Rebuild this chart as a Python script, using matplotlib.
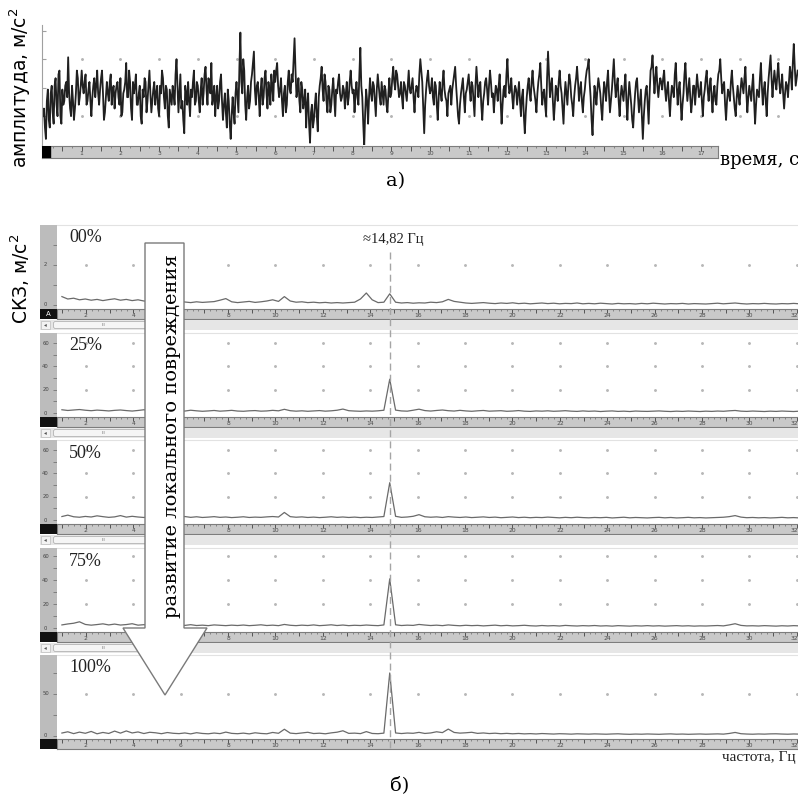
import numpy as np
import matplotlib
matplotlib.use('Agg')
import matplotlib.pyplot as plt
from matplotlib.patches import Polygon, Rectangle, FancyBboxPatch
from matplotlib.lines import Line2D

# ---------------- data ----------------
# a) time signal (amplitude, m/s^2): samples at k*0.05 s ...
signal_dt = 0.05
signal = [
    -0.3, -0.6, 0.1, -0.4, 0.3, -0.2, 0.5, 0.0, 0.8, -0.3, 0.4, 0.1, 0.6, 1.25, -0.1, 0.5, -0.4, 0.3, 0.7, 0.2,
    0.9, 0.3, 0.8, 0.1, 0.6, -0.3, 0.5, 0.2, 0.9, 0.0, 0.7, 0.3, -0.2, 0.6, 0.1, 0.8, 0.4, -0.1, 0.5, 0.2,
    0.7, -0.2, 0.4, 1.1, 0.2, 0.6, -0.4, 0.3, 0.8, 0.0, 0.5, -0.5, 0.2, 0.6, 0.1, 0.9, -0.2, 0.4, 0.0, 0.5,
    -0.3, 0.3, 0.7, -0.1, 0.4, -0.6, 0.2, 0.5, 0.0, 1.2, -0.2, 0.8, 0.1, -0.75, 0.3, 0.6, -0.3, 0.2, 0.9, 0.1,
    0.5, -0.2, 0.7, 0.3, 1.0, 0.0, 0.6, 1.1, 0.2, -0.3, 0.5, 0.1, 0.8, -0.4, 0.3, -0.6, 0.1, -0.9, 0.2, -0.5,
    0.6, -0.2, 1.9, 0.3, 0.9, -0.4, 0.5, 0.1, 0.8, 1.4, 0.0, 0.6, -0.3, 0.7, 0.2, 0.9, -0.1, 0.4, 0.8, 0.1,
    0.6, 1.1, 0.2, 0.7, -0.3, 0.5, 0.0, 0.9, 0.3, 0.6, 1.75, 0.2, 0.7, -0.2, 0.4, 0.1, -0.6, 0.3, -1.0, 0.0,
    -0.4, 0.3, -0.7, 0.5, 1.0, 0.1, 0.6, -0.2, 0.4, 0.0, 0.7, -0.3, 0.3, 0.8, 0.1, 0.5, -0.1, 0.6, 0.2, 0.9,
    0.3, -0.2, 0.6, 0.0, 1.5, 0.2, -1.1, 0.4, -0.5, 0.7, 0.1, 0.5, -0.3, 0.8, 0.2, 0.6, 0.0, 0.4, -0.2, 0.7,
    0.3, 1.0, 0.4, 0.8, 0.2, 0.6, -0.1, 0.5, 0.1, 0.9, 0.3, 0.7, -0.2, 0.5, 0.2, 1.2, 0.6, -0.75, 0.4, 0.9,
    0.3, 0.7, 0.0, 0.5, -0.4, 0.6, 0.1, 0.9, 0.2, -0.3, 0.4, 0.0, 0.6, 1.0, 0.1, -0.5, 0.3, 0.7, -0.2, 0.4,
    0.8, 0.1, 0.5, -0.3, 1.0, 0.2, 0.6, -0.4, 0.3, 0.7, 0.0, 0.9, 0.2, -0.2, 0.5, 0.1, 0.8, -0.5, 0.4, 0.2,
    1.2, 0.3, 0.7, -0.1, 0.5, 0.0, 0.6, -0.3, 0.4, -0.75, 0.2, 0.7, 0.1, 0.9, 0.3, -0.2, 0.6, 1.1, 0.0, 0.4,
    -0.3, 1.4, 0.2, 0.7, -0.4, 0.5, 0.1, 0.9, 0.3, -0.5, 0.6, 0.0, 0.8, 0.2, -0.3, 0.5, 1.0, 0.1, 0.6, -0.2,
    0.4, 0.9, 1.2, 0.2, -0.8, 0.5, 0.0, 0.7, 0.3, -0.4, 0.6, 0.1, 0.9, -0.2, 0.4, 1.2, 0.2, 0.7, -0.3, 0.5,
    0.1, 0.8, -0.4, 0.6, 0.0, -0.6, 0.3, 0.7, -0.2, 0.4, -0.9, 0.1, 0.5, -0.5, 0.9, 1.3, 0.3, 1.0, 0.2, 0.7,
    0.4, 0.9, 0.1, 0.6, -0.3, 0.5, 0.2, 1.1, 0.0, 0.6, -0.4, 0.3, 1.1, 0.1, 0.7, -0.2, 0.5, 0.0, 0.8, 0.2,
    0.6, -0.3, 0.4, 0.9, 0.1, 0.7, -0.2, 0.5, 0.0, 0.8, 1.2, 0.3, 0.6, -0.4, 0.4, 0.1, 0.9, 0.2, -0.3, 0.5,
    0.0, 0.7, 0.3, 1.0, -0.2, 0.5, 0.1, 0.8, -0.5, 0.4, 0.2, 1.1, 0.0, 0.6, -0.3, 0.7, 1.3, 0.2, 0.9, 0.4,
    1.1, 0.3, 0.8, -0.1, 0.6, 0.2, 1.0, 0.4, 1.6, 0.5, 0.9,
]
# ... and the samples read in between them, at k*0.05 + 0.025 s
signal_mid = [
    -0.1, -0.9, 0.4, -0.6, 0.5, -0.5, 0.7, -0.3, 0.9, -0.5, 0.0, 0.5, 0.2, 0.3, -0.3, 0.1, -0.1, 0.9, 0.0, 0.5,
    0.5, 0.6, 0.0, 0.4, 0.1, 0.2, 0.7, 0.5, 0.3, 0.4, 0.9, -0.4, 0.2, 0.3, 0.6, 0.0, 0.5, 0.3, 0.6, 0.0,
    -0.3, 0.3, 0.6, 0.2, 0.9, -0.1, 0.6, 0.5, 0.0, 0.3, -0.3, 0.4, 0.7, -0.2, 0.5, 0.3, 0.1, 0.6, 0.3, -0.1,
    0.5, 0.9, 0.2, 0.5, -0.3, 0.4, 0.0, 0.3, 0.8, 0.5, 0.3, -0.1, -0.4, 0.5, 0.0, 0.1, 0.4, 0.6, 0.0, 0.6,
    0.1, 0.4, 0.0, 0.8, 0.4, 0.7, 0.3, 0.0, 0.5, 0.2, -0.1, 0.6, 0.1, 0.0, -0.2, 0.4, -0.5, -0.3, -0.2, 0.3,
    0.2, 1.0, 0.6, 1.2, 0.0, 0.2, -0.1, 0.6, 1.1, 0.4, 0.5, 0.2, 0.4, 0.0, 0.7, 0.3, 0.6, 0.0, 0.5, 0.9,
    0.9, 0.5, 0.4, 0.1, 0.3, -0.2, 0.6, 0.4, 0.8, 1.2, 0.9, 0.4, 0.1, 0.6, -0.1, 0.4, 0.0, -0.5, -0.2, -0.6,
    0.0, -0.3, 0.2, 0.7, 0.4, 0.8, 0.1, 0.5, -0.2, 0.4, 0.2, 0.4, 0.6, 0.3, 0.2, 0.4, 0.3, 0.0, 0.6, 0.5,
    0.4, 0.3, 0.2, 0.8, 0.5, -0.5, -0.2, 0.1, 0.2, 0.3, 0.6, 0.1, 0.4, 0.5, 0.0, 0.3, 0.5, 0.0, 0.3, 0.2,
    0.7, 0.6, 0.9, 0.5, 0.3, 0.2, 0.6, 0.3, 0.5, 0.4, 0.5, 0.2, 0.3, 0.4, 0.8, 0.9, -0.1, 0.0, 0.7, 0.5,
    0.4, 0.2, 0.6, 0.0, 0.2, 0.3, 0.6, 0.4, 0.1, 0.3, 0.5, 0.4, 0.8, 0.5, -0.3, 0.0, 0.5, 0.2, 0.3, 0.6,
    0.4, 0.6, 0.1, 0.5, 0.6, 0.5, 0.0, 0.1, 0.6, 0.4, 0.5, 0.6, 0.3, 0.2, 0.4, 0.5, 0.1, 0.0, 0.5, 0.8,
    0.6, 0.4, 0.2, 0.3, 0.4, 0.3, 0.1, 0.2, -0.3, -0.2, 0.5, 0.3, 0.6, 0.5, 0.1, 0.3, 0.8, 0.5, 0.3, 0.0,
    0.7, 0.8, 0.5, 0.1, 0.0, 0.4, 0.6, 0.5, -0.1, 0.2, 0.3, 0.5, 0.6, 0.0, 0.2, 0.7, 0.6, 0.4, 0.1, 0.2,
    0.7, 1.0, 0.6, -0.4, -0.1, 0.3, 0.4, 0.5, -0.1, 0.2, 0.4, 0.6, 0.3, 0.1, 0.8, 0.6, 0.5, 0.1, 0.2, 0.3,
    0.5, 0.1, 0.2, 0.3, -0.4, -0.1, 0.6, 0.2, 0.1, -0.3, -0.3, 0.4, 0.0, 0.3, 1.0, 0.8, 0.7, 0.5, 0.5, 0.6,
    0.7, 0.4, 0.4, 0.1, 0.2, 0.4, 0.8, 0.5, 0.4, 0.1, 0.0, 0.8, 0.5, 0.4, 0.2, 0.1, 0.5, 0.4, 0.5, 0.3,
    0.1, 0.2, 0.7, 0.4, 0.5, 0.2, 0.3, 0.1, 0.5, 0.9, 0.7, 0.5, 0.0, 0.1, 0.3, 0.6, 0.5, -0.1, 0.2, 0.2,
    0.4, 0.5, 0.7, 0.3, 0.2, 0.3, 0.5, 0.1, 0.0, 0.3, 0.7, 0.5, 0.4, 0.1, 0.3, 1.0, 0.7, 0.6, 0.6, 0.8,
    0.6, 0.5, 0.3, 0.3, 0.5, 0.6, 0.8, 1.1, 1.0, 0.7,
]
time_ticks = list(range(1, 18))

# b) spectra, frequency bin width 0.247 Hz starting at 0.988 Hz
freq_step = 0.247
freq_start = 0.988
panel_labels = ['00%', '25%', '50%', '75%', '100%']
peak_freq = 14.82
peak_label = '≈14,82 Гц'
freq_ticks = list(range(2, 33, 2))

spec_00 = [
    0.42, 0.30, 0.34, 0.26, 0.30, 0.24, 0.28, 0.22, 0.27, 0.31,
    0.24, 0.28, 0.22, 0.26, 0.20, 0.18, 0.22, 0.16, 0.20, 0.14,
    0.18, 0.15, 0.12, 0.16, 0.13, 0.15, 0.17, 0.24, 0.32, 0.16,
    0.12, 0.15, 0.18, 0.13, 0.16, 0.20, 0.26, 0.18, 0.42, 0.20,
    0.14, 0.16, 0.12, 0.14, 0.11, 0.13, 0.10, 0.12, 0.10, 0.12,
    0.14, 0.30, 0.60, 0.26, 0.12, 0.14, 0.56, 0.14, 0.10, 0.12,
    0.09, 0.11, 0.10, 0.14, 0.12, 0.16, 0.28, 0.18, 0.14, 0.10,
    0.08, 0.10, 0.12, 0.09, 0.07, 0.10, 0.08, 0.11, 0.07, 0.09,
    0.06, 0.08, 0.10, 0.07, 0.09, 0.06, 0.08, 0.07, 0.10, 0.06,
    0.08, 0.06, 0.09, 0.07, 0.05, 0.08, 0.06, 0.07, 0.05, 0.08,
    0.06, 0.09, 0.07, 0.05, 0.07, 0.06, 0.08, 0.05, 0.07, 0.06,
    0.05, 0.07, 0.09, 0.06, 0.08, 0.10, 0.07, 0.05, 0.07, 0.06,
    0.08, 0.06, 0.05, 0.07, 0.06, 0.08, 0.06,
]
spec_25 = [
    2.8, 2.2, 2.6, 3.0, 2.4, 2.0, 2.5, 2.2, 1.8, 2.3,
    2.6, 2.1, 1.7, 2.2, 2.8, 2.0, 1.6, 2.1, 1.8, 1.5,
    2.0, 1.7, 2.4, 1.9, 1.5, 1.8, 2.2, 1.6, 1.9, 2.3,
    1.7, 1.5, 1.9, 2.1, 1.6, 1.8, 2.3, 1.9, 3.2, 2.0,
    1.6, 1.9, 1.5, 1.8, 2.1, 1.6, 1.9, 2.4, 3.4, 2.0,
    1.7, 1.5, 1.8, 1.6, 1.9, 2.4, 29.0, 2.5, 1.8, 1.6,
    2.4, 3.3, 2.1, 1.7, 2.2, 2.6, 2.0, 1.7, 2.3, 1.8,
    1.5, 1.9, 2.2, 1.6, 1.8, 2.0, 1.5, 1.7, 2.1, 1.6,
    1.4, 1.8, 1.6, 1.9, 1.5, 1.7, 2.0, 1.6, 1.4, 1.8,
    1.5, 1.7, 1.3, 1.6, 1.8, 1.4, 1.6, 1.3, 1.7, 1.5,
    1.4, 1.6, 1.8, 1.5, 1.3, 1.6, 1.4, 1.7, 1.5, 1.3,
    1.6, 1.4, 1.7, 1.5, 1.9, 2.2, 1.6, 1.4, 1.7, 1.5,
    1.3, 1.6, 1.4, 1.7, 1.5, 1.3, 1.6,
]
spec_50 = [
    3.0, 4.2, 2.8, 2.4, 3.1, 2.6, 3.6, 2.9, 2.3, 2.7,
    3.8, 2.5, 3.2, 2.6, 2.2, 2.9, 3.4, 2.4, 2.7, 2.1,
    2.6, 3.0, 2.3, 2.8, 2.2, 2.5, 2.9, 2.3, 2.6, 2.1,
    2.4, 2.8, 2.2, 2.5, 2.3, 2.7, 3.0, 2.6, 6.5, 2.9,
    2.4, 2.7, 2.2, 2.5, 2.1, 2.4, 2.8, 2.3, 2.6, 2.2,
    2.5, 2.1, 2.4, 2.2, 2.6, 3.0, 32.0, 3.2, 2.3, 2.6,
    3.2, 4.6, 2.8, 2.4, 2.7, 2.2, 2.9, 2.5, 2.2, 2.6,
    2.1, 2.4, 2.7, 2.2, 2.5, 2.0, 2.3, 2.6, 2.1, 2.4,
    2.0, 2.3, 2.1, 2.5, 2.2, 1.9, 2.3, 2.0, 2.4, 2.1,
    1.9, 2.2, 2.0, 2.3, 1.8, 2.1, 2.4, 1.9, 2.2, 2.0,
    1.8, 2.1, 2.3, 1.9, 2.2, 1.8, 2.0, 2.3, 1.9, 2.1,
    1.8, 2.0, 2.2, 2.4, 2.9, 3.8, 2.5, 2.0, 2.2, 1.9,
    2.1, 1.8, 2.0, 2.3, 1.9, 2.1, 1.8,
]
spec_75 = [
    2.6, 3.4, 4.0, 5.2, 3.0, 2.4, 2.9, 3.5, 2.6, 3.3,
    2.5, 2.9, 3.6, 2.4, 2.8, 2.2, 2.6, 3.1, 2.3, 2.0,
    2.5, 2.2, 2.8, 2.1, 2.4, 2.0, 2.6, 2.3, 2.0, 2.4,
    2.1, 2.5, 2.0, 2.3, 2.7, 2.1, 2.4, 2.0, 3.0, 2.3,
    2.0, 2.4, 2.1, 2.6, 2.0, 2.3, 2.7, 2.1, 2.5, 2.0,
    2.3, 2.1, 2.5, 2.2, 2.0, 2.6, 41.0, 2.7, 2.1, 2.4,
    2.2, 3.0, 2.5, 2.1, 2.4, 2.0, 2.6, 2.2, 1.9, 2.3,
    2.0, 2.2, 1.8, 2.1, 2.4, 1.9, 2.2, 1.8, 2.0, 2.3,
    1.9, 1.7, 2.1, 1.8, 2.0, 1.7, 2.2, 1.9, 1.7, 2.0,
    1.8, 2.1, 1.7, 1.9, 1.6, 2.0, 1.8, 1.6, 1.9, 1.7,
    2.0, 1.7, 1.9, 1.6, 1.8, 2.0, 1.7, 1.9, 1.6, 1.8,
    1.7, 1.9, 2.1, 1.8, 2.6, 3.6, 2.2, 1.8, 1.9, 1.7,
    2.0, 1.8, 1.6, 1.9, 1.7, 2.0, 1.8,
]
spec_100 = [
    3.5, 5.0, 2.8, 4.6, 3.2, 5.4, 2.6, 4.2, 3.0, 5.8,
    3.4, 6.0, 3.6, 4.8, 2.9, 4.4, 3.8, 2.7, 4.1, 3.2,
    2.8, 3.6, 2.5, 3.9, 3.0, 2.6, 3.5, 2.8, 4.6, 3.1,
    2.7, 3.4, 2.5, 3.8, 3.0, 2.6, 4.2, 3.2, 8.0, 3.4,
    2.8, 3.6, 4.4, 2.9, 3.3, 2.6, 3.7, 4.5, 6.2, 3.1,
    3.4, 2.8, 5.2, 3.0, 2.7, 3.4, 75.0, 3.6, 2.9, 3.5,
    3.2, 4.3, 3.0, 3.6, 5.0, 4.0, 8.2, 4.2, 3.4, 3.8,
    4.4, 3.1, 3.6, 2.9, 3.3, 2.7, 3.1, 2.6, 3.0, 2.5,
    2.8, 2.4, 2.9, 2.6, 2.3, 2.7, 2.5, 2.2, 2.6, 2.4,
    2.2, 2.5, 2.3, 2.1, 2.4, 2.6, 2.2, 2.0, 2.3, 2.1,
    2.4, 2.2, 2.0, 2.3, 2.5, 2.1, 2.3, 2.0, 2.2, 2.4,
    2.1, 2.3, 2.5, 2.2, 3.0, 4.2, 2.7, 2.3, 2.1, 2.4,
    2.2, 2.5, 2.6, 2.3, 2.1, 2.4, 2.2,
]
spectra = [spec_00, spec_25, spec_50, spec_75, spec_100]

# ---------------- layout helpers ----------------
W, H = 798, 800
fig = plt.figure(figsize=(W / 100, H / 100), dpi=100)


def add_ax(x0, y0, x1, y1, **kw):
    return fig.add_axes([x0 / W, 1 - y1 / H, (x1 - x0) / W, (y1 - y0) / H], **kw)


def fx(x):
    return x / W


def fy(y):
    return 1 - y / H


def clean(ax):
    ax.set_xticks([])
    ax.set_yticks([])
    for s in ax.spines.values():
        s.set_visible(False)


def ruler(ax, lo, hi, minor_step, mid_step, labels, skip=None):
    ax.set_facecolor('#c9c9c9')
    ax.set_xlim(lo, hi)
    ax.set_ylim(0, 1)
    ax.set_xticks([])
    ax.set_yticks([])
    for s in ax.spines.values():
        s.set_color('#7d7d7d')
        s.set_linewidth(0.8)
    minor = np.arange(np.ceil(lo / minor_step) * minor_step, hi, minor_step)
    mid = np.arange(np.ceil(lo / mid_step) * mid_step, hi, mid_step)
    ax.vlines(minor, 0.8, 1, color='#6a6a6a', lw=0.5)
    ax.vlines(mid, 0.6, 1, color='#555555', lw=0.7)
    for v in labels:
        if skip is not None and skip[0] <= v <= skip[1]:
            continue  # hidden beneath the big arrow
        if v >= hi - 0.3:
            ax.text(hi, 0.36, str(v), ha='right', va='center', fontsize=4.3,
                    color='#4a4a4a')
        else:
            ax.text(v, 0.36, str(v), ha='center', va='center', fontsize=4.3,
                    color='#4a4a4a')


# ---------------- a) time signal ----------------
sig = np.empty(len(signal) + len(signal_mid))
sig[0::2] = signal
sig[1::2] = signal_mid
t = np.arange(len(sig)) * (signal_dt / 2)
sx0 = 43.0
s_pps = 38.7
ax = add_ax(42, 25, 798, 145)
ax.set_xlim((42 - sx0) / s_pps, (798 - sx0) / s_pps)
ax.set_ylim(-1.06, 2.10)
ax.plot(t, sig, color='#202020', lw=1.3)
gx, gy = np.meshgrid(np.arange(1, 20), [1.2, -0.3])
ax.scatter(gx.ravel(), gy.ravel(), s=1.2, color='#b5b5b5', zorder=0)
for k, s in ax.spines.items():
    s.set_visible(k == 'left')
ax.spines['left'].set_color('#a0a0a0')
ax.spines['left'].set_linewidth(0.8)
ax.set_xticks([])
ax.set_yticks([-0.3, 0.45, 1.2, 1.95])
ax.tick_params(axis='y', direction='in', length=3, color='#a0a0a0',
               labelleft=False)

rax = add_ax(42, 146, 718, 158)
ruler(rax, (42 - sx0) / s_pps, (718 - sx0) / s_pps, 0.25, 0.5, time_ticks)
rax.add_patch(Rectangle((0, 0), 0.012, 1, transform=rax.transAxes,
                        color='black', zorder=5))

fig.text(fx(20), fy(88), 'амплитуда, м/с$^2$', rotation=90, ha='center',
         va='center', fontsize=13.5, family='DejaVu Sans')
fig.text(fx(720), fy(160), 'время, с', ha='left', va='center', fontsize=13,
         family='DejaVu Serif')
fig.text(fx(396), fy(181), 'а)', ha='center', va='center', fontsize=14,
         family='DejaVu Serif')

# ---------------- b) spectra ----------------
freq = freq_start + freq_step * np.arange(len(spec_00))
f0 = 38.5
f_pps = 23.7
xlo, xhi = (57 - f0) / f_pps, (798 - f0) / f_pps
tops = [225, 333, 440, 548, 655]
ylims = [(-0.2, 4.0), (-3.4, 68.6), (-3.4, 68.6), (-3.3, 66.7), (-3.6, 96.4)]
grid_levels = [[2], [20, 40, 60], [20, 40, 60], [20, 40, 60], [50]]
strip_labels = [[0, 2], [0, 20, 40, 60], [0, 20, 40, 60], [0, 20, 40, 60], [0, 50]]
strip_minor = [1, 10, 10, 10, 25]
hidden = [(5, 6.5), (5, 6.5), (5, 6.5), (3.5, 7), None]

for i, (T, vals) in enumerate(zip(tops, spectra)):
    pax = add_ax(57, T, 798, T + 84)
    pax.set_xlim(xlo, xhi)
    pax.set_ylim(*ylims[i])
    pax.plot(freq, vals, color='#6a6a6a', lw=0.9)
    gxx, gyy = np.meshgrid(np.arange(2, 33, 2), grid_levels[i])
    pax.scatter(gxx.ravel(), gyy.ravel(), s=1.2, color='#b8b8b8', zorder=0)
    clean(pax)
    pax.spines['top'].set_visible(True)
    pax.spines['top'].set_color('#e2e2e2')

    # left value strip
    sax = add_ax(40, T, 57, T + 84, facecolor='#bcbcbc')
    sax.set_xlim(0, 1)
    sax.set_ylim(*ylims[i])
    clean(sax)
    lo_y, hi_y = ylims[i]
    mt = np.arange(0, hi_y, strip_minor[i])
    sax.hlines(mt, 0.78, 1.0, color='#666666', lw=0.5)
    for v in strip_labels[i]:
        sax.text(0.33, v, str(v), ha='center', va='center', fontsize=3.8,
                 color='#444444')

    # frequency ruler
    rx = add_ax(57, T + 84, 798, T + 94)
    ruler(rx, xlo, xhi, 0.25, 1.0, freq_ticks, skip=hidden[i])
    bx = add_ax(40, T + 84, 57, T + 94, facecolor='#111111')
    clean(bx)
    if i == 0:
        bx.text(0.5, 0.5, 'A', ha='center', va='center', fontsize=5,
                color='white', transform=bx.transAxes)

    # scrollbar
    if i < 4:
        sb = add_ax(40, T + 95, 798, T + 105, facecolor='#e6e6e6')
        sb.set_xlim(40, 798)
        sb.set_ylim(0, 10)
        clean(sb)
        sb.add_patch(Rectangle((41, 1), 9, 8, facecolor='#f3f3f3',
                               edgecolor='#bdbdbd', lw=0.5))
        sb.text(45.5, 5, '◂', ha='center', va='center', fontsize=4,
                color='#555555')
        sb.add_patch(FancyBboxPatch((54, 2), 100, 6,
                                    boxstyle='round,pad=0.5,rounding_size=2',
                                    facecolor='#f5f5f5', edgecolor='#a8a8a8',
                                    lw=0.5))
        sb.text(104, 5, 'III', ha='center', va='center', fontsize=3.2,
                color='#666666')

    fig.text(fx(69), fy(T + 13), panel_labels[i], ha='left', va='center',
             fontsize=13, family='Liberation Serif', color='#222222')

# dashed marker at the rotor frequency
px_peak = f0 + peak_freq * f_pps
fig.add_artist(Line2D([fx(px_peak)] * 2, [fy(252), fy(752)], color='#a5a5a5',
                      lw=1.0, ls=(0, (5, 3)), zorder=10))
fig.text(fx(px_peak + 4), fy(240), peak_label, ha='center', va='center',
         fontsize=10.5, family='Liberation Serif', color='#222222')

fig.text(fx(20), fy(279), 'СКЗ, м/с$^2$', rotation=90, ha='center',
         va='center', fontsize=13.5, family='DejaVu Sans')
fig.text(fx(796), fy(758), 'частота, Гц', ha='right', va='center',
         fontsize=11, family='Liberation Serif', color='#222222')
fig.text(fx(400), fy(785), 'б)', ha='center', va='center', fontsize=14,
         family='DejaVu Serif')

# big arrow "развитие локального повреждения"
arrow_px = [(145, 243), (184, 243), (184, 628), (207, 628), (165, 695),
            (123, 628), (145, 628)]
fig.add_artist(Polygon([(fx(x), fy(y)) for x, y in arrow_px], closed=True,
                       facecolor='white', edgecolor='#7a7a7a', lw=1.0,
                       transform=fig.transFigure, zorder=20))
fig.text(fx(172), fy(436), 'развитие локального повреждения', rotation=90,
         ha='center', va='center', fontsize=14, family='DejaVu Serif',
         zorder=21)

fig.savefig('out.png', dpi=100)
